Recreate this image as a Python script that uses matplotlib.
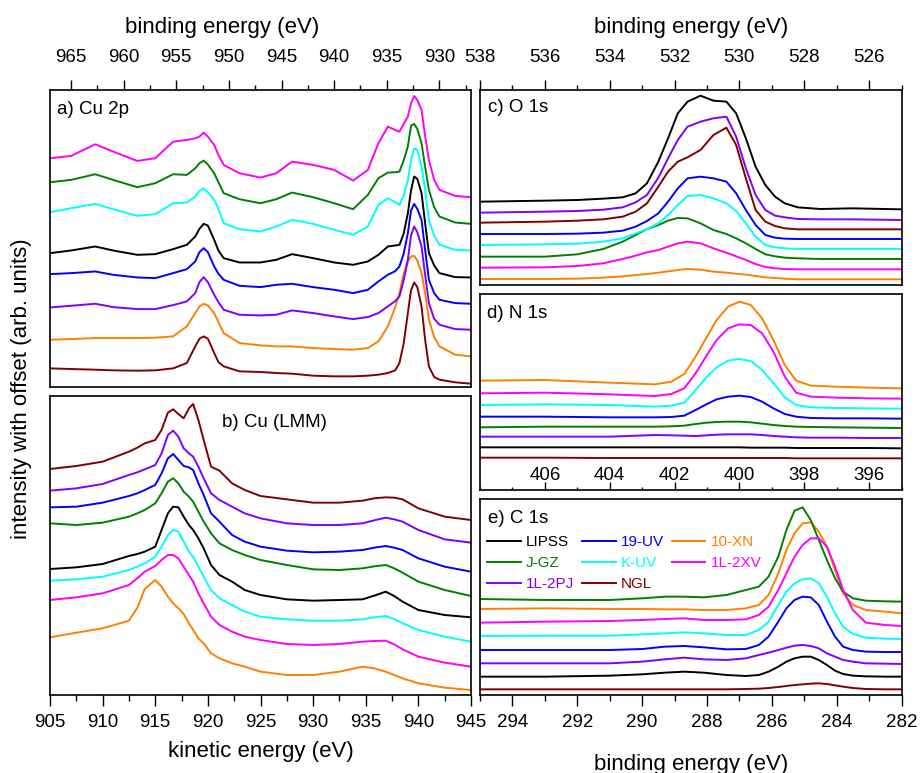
import matplotlib.pyplot as plt
from matplotlib.ticker import MultipleLocator

plt.rcParams['font.family'] = ['Liberation Sans', 'DejaVu Sans']

samples = ['LIPSS', '19-UV', '10-XN', 'J-GZ', 'K-UV', '1L-2XV', '1L-2PJ', 'NGL']
colors = ['#000000', '#0000ff', '#ff8000', '#008000', '#00ffff', '#ff00ff', '#8000ff', '#800000']

# a) Cu 2p, binding energy (eV) and offset intensities
be_cu2p = [967, 965, 962.7, 961, 958.7, 957, 955.3, 954, 953.2, 952.8, 952.4, 952.0, 951.4, 951.0,
           950.5, 949, 947, 945.5, 944, 942, 940, 938.2, 936.8, 935.8, 934.9, 934.2, 933.8, 933.4,
           933, 932.7, 932.4, 932.1, 931.7, 931.35, 931, 930.5, 930, 928.5, 927]
cu2p = {
    'LIPSS': [402, 410, 422, 410, 397, 399, 414, 427, 452, 475, 490, 485, 442, 410, 387, 374, 374,
              382, 399, 387, 374, 367, 377, 397, 422, 425, 427, 460, 522, 590, 632, 625, 582, 490,
              402, 365, 342, 330, 329],
    '19-UV': [339, 342, 347, 337, 329, 327, 342, 354, 377, 405, 417, 405, 362, 340, 322, 304, 300,
              307, 310, 300, 292, 282, 292, 317, 337, 348, 362, 400, 462, 530, 550, 535, 502, 410,
              322, 282, 262, 252, 250],
    '10-XN': [142, 144, 147, 147, 147, 148, 152, 182, 222, 242, 250, 245, 222, 195, 162, 132, 125,
              122, 122, 117, 114, 112, 117, 137, 182, 240, 282, 340, 377, 392, 394, 380, 342, 280,
              202, 150, 122, 97, 92],
    'J-GZ': [615, 622, 639, 622, 600, 612, 639, 637, 657, 672, 680, 668, 642, 615, 582, 564, 552,
             564, 584, 570, 552, 534, 577, 627, 644, 645, 647, 680, 722, 785, 790, 775, 732, 660,
             592, 540, 512, 494, 490],
    'K-UV': [525, 537, 550, 534, 514, 519, 552, 554, 572, 588, 597, 585, 562, 535, 492, 474, 467,
             482, 502, 490, 472, 457, 482, 547, 567, 555, 547, 575, 622, 680, 717, 712, 662, 590,
             502, 455, 427, 412, 410],
    '1L-2XV': [687, 694, 729, 707, 679, 687, 737, 742, 747, 752, 764, 752, 727, 697, 667, 642, 629,
               642, 677, 667, 652, 620, 652, 732, 782, 772, 767, 790, 812, 852, 874, 862, 832, 752,
               682, 622, 592, 574, 570],
    '1L-2PJ': [239, 244, 250, 240, 234, 234, 246, 257, 282, 315, 330, 315, 277, 255, 232, 217, 215,
               217, 230, 222, 212, 204, 210, 222, 242, 258, 272, 320, 382, 455, 482, 465, 422, 335,
               252, 205, 187, 174, 172],
    'NGL': [56, 54, 52, 50, 49, 50, 56, 72, 122, 145, 152, 145, 102, 75, 62, 47, 45, 42, 40, 34,
            32, 32, 34, 37, 42, 50, 72, 130, 222, 290, 314, 300, 242, 140, 62, 30, 22, 14, 10],
}

# b) Cu LMM Auger, kinetic energy (eV)
ke_lmm = [905, 907.5, 910, 912.5, 913.3, 914, 915, 915.6, 916.2, 916.7, 917.2, 917.7, 918.2, 918.6,
          919.1, 919.6, 920.3, 921.1, 922.3, 923.5, 925, 927.5, 930, 932.5, 934.7, 935.8, 936.9,
          937.7, 938.5, 940, 942.5, 945]
lmm = {
    'LIPSS': [378, 383, 393, 417, 423, 430, 445, 495, 545, 565, 563, 535, 510, 495, 470, 440, 390,
              360, 340, 315, 300, 287, 283, 285, 287, 298, 310, 297, 280, 255, 240, 233],
    '19-UV': [563, 565, 577, 597, 605, 615, 630, 665, 710, 723, 705, 687, 683, 675, 635, 600, 545,
              520, 480, 460, 445, 433, 428, 430, 435, 442, 447, 442, 435, 410, 385, 370],
    '10-XN': [173, 187, 200, 223, 262, 318, 345, 325, 295, 275, 260, 243, 215, 195, 170, 155, 125,
              110, 95, 85, 70, 60, 60, 70, 85, 80, 70, 60, 50, 35, 22, 15],
    'J-GZ': [515, 510, 517, 535, 545, 555, 575, 605, 640, 650, 635, 610, 595, 580, 550, 520, 485,
             455, 435, 420, 405, 390, 377, 375, 380, 386, 390, 380, 367, 340, 315, 297],
    'K-UV': [343, 347, 355, 375, 385, 395, 415, 445, 480, 495, 490, 460, 430, 415, 385, 355, 315,
             290, 270, 250, 235, 227, 223, 223, 227, 233, 237, 228, 215, 195, 175, 160],
    '1L-2XV': [285, 293, 305, 330, 350, 370, 387, 405, 420, 420, 410, 385, 360, 340, 305, 275, 235,
               210, 190, 175, 165, 153, 150, 153, 160, 162, 163, 152, 137, 115, 97, 85],
    '1L-2PJ': [613, 620, 633, 660, 668, 677, 690, 725, 780, 793, 775, 740, 725, 715, 685, 650, 605,
               585, 565, 545, 530, 515, 510, 510, 515, 524, 532, 527, 520, 495, 467, 457],
    'NGL': [678, 687, 700, 730, 742, 755, 765, 795, 847, 857, 843, 830, 860, 873, 825, 765, 685,
            673, 635, 615, 597, 587, 577, 577, 583, 590, 593, 592, 587, 560, 535, 525],
}

# c) O 1s
be_o1s = [538, 536, 535, 534.2, 533.6, 533.2, 532.85, 532.5, 532.2, 531.9, 531.6, 531.2, 530.8,
          530.4, 530.1, 529.8, 529.5, 529.2, 528.9, 528.6, 528.2, 527.5, 526.5, 525]
o1s = {
    'LIPSS': [250, 253, 255, 259, 263, 275, 305, 370, 440, 515, 550, 568, 553, 550, 515, 440, 355,
              300, 265, 245, 233, 228, 230, 227],
    '19-UV': [153, 153, 154, 157, 163, 175, 192, 215, 250, 290, 320, 325, 320, 310, 275, 225, 180,
              150, 142, 139, 138, 138, 138, 138],
    '10-XN': [18, 18, 19, 22, 26, 30, 33, 37, 41, 45, 48, 46, 40, 37, 34, 31, 27, 23, 21, 19, 17,
              17, 17, 17],
    'J-GZ': [85, 85, 92, 108, 130, 150, 168, 180, 193, 201, 200, 185, 165, 153, 140, 125, 108, 92,
             86, 82, 80, 78, 78, 78],
    'K-UV': [120, 122, 124, 130, 140, 155, 168, 185, 210, 240, 267, 270, 260, 245, 222, 185, 145,
             120, 113, 110, 108, 108, 108, 108],
    '1L-2XV': [52, 53, 57, 65, 78, 88, 98, 105, 115, 125, 130, 125, 110, 97, 86, 75, 63, 54, 50, 48,
               47, 47, 47, 47],
    '1L-2PJ': [217, 220, 222, 226, 233, 248, 270, 322, 380, 435, 475, 490, 500, 505, 445, 350, 270,
               225, 208, 203, 198, 197, 197, 195],
    'NGL': [187, 190, 193, 197, 205, 220, 245, 295, 340, 370, 383, 405, 450, 472, 420, 320, 225, 190,
            177, 170, 167, 167, 167, 167],
}

# d) N 1s
be_n1s = [408, 406, 404, 402.6, 402.1, 401.7, 401.35, 401.0, 400.7, 400.35, 400, 399.65, 399.3,
          398.95, 398.6, 398.25, 397.8, 397, 396, 395]
n1s = {
    'LIPSS': [128, 128, 128, 128, 128, 128, 128, 128, 128, 128, 128, 127, 127, 127, 127, 126, 126,
              126, 126, 125],
    '19-UV': [220, 220, 218, 218, 219, 223, 240, 258, 272, 280, 283, 279, 265, 245, 228, 220, 216,
              215, 215, 214],
    '10-XN': [328, 330, 322, 317, 325, 348, 400, 460, 510, 550, 565, 555, 515, 450, 375, 328, 313,
              310, 307, 305],
    'J-GZ': [188, 190, 190, 190, 191, 193, 198, 202, 204, 205, 205, 203, 199, 195, 192, 190, 189,
             188, 187, 186],
    'K-UV': [255, 257, 255, 250, 253, 262, 300, 340, 368, 388, 393, 387, 360, 320, 278, 255, 248,
             246, 245, 244],
    '1L-2XV': [290, 292, 287, 282, 288, 305, 350, 405, 450, 485, 497, 495, 470, 415, 340, 292, 280,
               277, 275, 274],
    '1L-2PJ': [160, 160, 160, 165, 164, 163, 162, 164, 166, 167, 167, 167, 165, 162, 160, 158, 157,
               157, 156, 156],
    'NGL': [97, 97, 96, 96, 96, 96, 96, 96, 96, 96, 96, 96, 96, 96, 96, 95, 95, 95, 95, 95],
}

# e) C 1s
be_c1s = [295, 293, 291, 290, 289.3, 288.7, 288.1, 287.4, 286.8, 286.4, 286.1, 285.8, 285.55,
          285.3, 285.05, 284.8, 284.55, 284.3, 284.05, 283.8, 283.5, 283.1, 282.5, 282]
c1s = {
    'LIPSS': [55, 55, 58, 62, 67, 70, 67, 60, 57, 60, 70, 85, 100, 110, 115, 115, 105, 90, 73, 63,
              58, 56, 55, 55],
    '19-UV': [135, 135, 135, 138, 145, 147, 143, 137, 138, 150, 175, 220, 260, 285, 295, 293, 270,
              220, 175, 145, 135, 130, 129, 129],
    '10-XN': [258, 260, 258, 258, 257, 257, 255, 255, 260, 270, 300, 365, 435, 485, 515, 518, 490,
              445, 375, 305, 270, 255, 250, 245],
    'J-GZ': [288, 285, 285, 290, 295, 295, 293, 300, 315, 325, 355, 415, 495, 553, 563, 525, 465,
             405, 350, 310, 290, 283, 281, 280],
    'K-UV': [177, 178, 178, 182, 185, 188, 185, 180, 180, 195, 220, 270, 310, 335, 347, 350, 335,
             295, 245, 205, 183, 172, 169, 168],
    '1L-2XV': [217, 220, 222, 225, 228, 230, 225, 225, 227, 240, 265, 315, 365, 415, 450, 470, 470,
               445, 385, 315, 255, 217, 210, 207],
    '1L-2PJ': [95, 95, 95, 100, 107, 112, 107, 105, 110, 120, 127, 135, 142, 148, 150, 147, 140,
               125, 115, 105, 100, 95, 94, 93],
    'NGL': [17, 17, 17, 17, 17, 17, 17, 17, 18, 19, 21, 24, 27, 30, 32, 34, 35, 33, 29, 25, 21, 18,
            17, 17],
}

W, H = 921, 773


def box(l, t, r, b):
    return [l / W, 1 - b / H, (r - l) / W, (b - t) / H]


fig = plt.figure(figsize=(W / 100, H / 100), dpi=100)
ax_a = fig.add_axes(box(50, 90, 471, 387))
ax_b = fig.add_axes(box(50, 396, 471, 695))
ax_c = fig.add_axes(box(480, 90, 901.5, 285))
ax_d = fig.add_axes(box(480, 294, 901.5, 490))
ax_e = fig.add_axes(box(480, 499, 901.5, 695))

panels = [(ax_a, be_cu2p, cu2p, (967, 927), 892),
          (ax_b, ke_lmm, lmm, (905, 945), 897),
          (ax_c, be_o1s, o1s, (538, 525), 585),
          (ax_d, be_n1s, n1s, (408, 395), 588),
          (ax_e, be_c1s, c1s, (295, 282), 588)]

for ax, x, data, xlim, ytop in panels:
    for name, col in zip(samples, colors):
        ax.plot(x, data[name], color=col, lw=1.4, label=name, solid_joinstyle='round')
    ax.set_xlim(*xlim)
    ax.set_ylim(0, ytop)
    ax.set_yticks([])
    for s in ax.spines.values():
        s.set_linewidth(1.2)
    ax.tick_params(axis='x', which='both', width=1.0, labelsize=13.5, top=False, bottom=False,
                   labeltop=False, labelbottom=False)

# top energy axes
for ax, major, minor in [(ax_a, 5, 2.5), (ax_c, 2, 1)]:
    ax.xaxis.set_major_locator(MultipleLocator(major))
    ax.xaxis.set_minor_locator(MultipleLocator(minor))
    ax.tick_params(axis='x', which='both', direction='out', top=True, labeltop=True, pad=9.5)
    ax.tick_params(axis='x', which='major', length=7.5)
    ax.tick_params(axis='x', which='minor', length=3.5)
    ax.xaxis.set_label_position('top')
    ax.set_xlabel('binding energy (eV)', fontsize=16, labelpad=12)
ax_a.xaxis.label.set_x(0.41)

# bottom energy axes
for ax, major, minor in [(ax_b, 5, 2.5), (ax_e, 2, 1)]:
    ax.xaxis.set_major_locator(MultipleLocator(major))
    ax.xaxis.set_minor_locator(MultipleLocator(minor))
    ax.tick_params(axis='x', which='both', direction='out', bottom=True, labelbottom=True, pad=6)
    ax.tick_params(axis='x', which='major', length=8)
    ax.tick_params(axis='x', which='minor', length=4.5)
ax_b.set_xlabel('kinetic energy (eV)', fontsize=16, labelpad=7)
ax_e.set_xlabel('binding energy (eV)', fontsize=16, labelpad=16)

# N 1s scale sits inside its panel
ax_d.set_xticks([406, 404, 402, 400, 398, 396])
ax_d.xaxis.set_minor_locator(MultipleLocator(1))
ax_d.tick_params(axis='x', which='both', direction='in', bottom=True, labelbottom=True, pad=-16.5)
ax_d.tick_params(axis='x', which='major', length=5.5)
ax_d.tick_params(axis='x', which='minor', length=2.5)

fig.text(22 / W, 1 - 389 / H, 'intensity with offset (arb. units)', rotation=90,
         ha='center', va='center', fontsize=16)

ax_a.text(0.017, 0.933, 'a) Cu 2p', transform=ax_a.transAxes, fontsize=13.5, va='center')
ax_b.text(0.409, 0.913, 'b) Cu (LMM)', transform=ax_b.transAxes, fontsize=13.5, va='center')
ax_c.text(0.019, 0.908, 'c) O 1s', transform=ax_c.transAxes, fontsize=13.5, va='center')
ax_d.text(0.017, 0.898, 'd) N 1s', transform=ax_d.transAxes, fontsize=13.5, va='center')
ax_e.text(0.019, 0.903, 'e) C 1s', transform=ax_e.transAxes, fontsize=13.5, va='center')

# legend filled row by row across three columns
order = ['LIPSS', 'J-GZ', '1L-2PJ', '19-UV', 'K-UV', 'NGL', '10-XN', '1L-2XV']
handles = {h.get_label(): h for h in ax_e.get_lines()}
ax_e.legend([handles[k] for k in order], order, ncol=3, loc='upper left',
            bbox_to_anchor=(0.017, 0.815), frameon=False, fontsize=11, borderpad=0,
            borderaxespad=0, handlelength=2.2, handletextpad=0.35, columnspacing=0.5,
            labelspacing=0.45, labelcolor='linecolor')

fig.savefig('out.png', dpi=100)
